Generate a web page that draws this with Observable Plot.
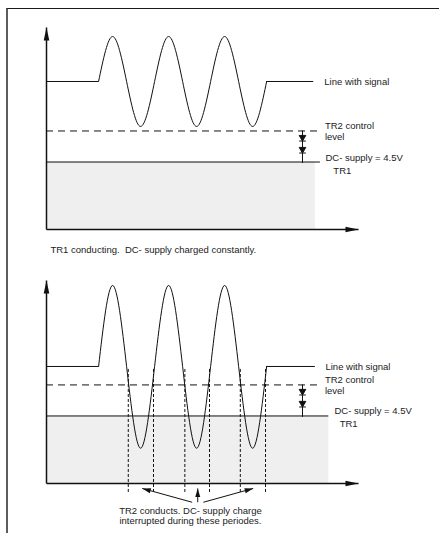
<!DOCTYPE html>
<html><head><meta charset="utf-8">
<script src="https://cdn.jsdelivr.net/npm/d3@7"></script>
<script src="https://cdn.jsdelivr.net/npm/@observablehq/plot@0.6"></script>
<style>
html,body{margin:0;padding:0;background:#fff;}
#wrap{position:relative;width:439px;height:533px;overflow:hidden;font-family:"Liberation Sans",Arial,sans-serif;}
#frame{position:absolute;left:5.5px;top:7.5px;right:-4px;bottom:-4px;border-top:1.6px solid #1a1a1a;border-left:2px solid #5c5c5c;pointer-events:none;z-index:2;}
.panel{position:absolute;left:0;}
</style></head><body>
<div id="wrap"><div id="frame"></div></div>
<script>
// ---------- shared values (time in signal periods, level in volts) ----------
const axisEndT = 5.57;
const controlLevel = 6.57;
const dcSupply = 4.5;
const waveT = [0.93, 1.18, 1.43, 1.68, 1.93, 2.18, 2.43, 2.68, 2.93, 3.18, 3.43, 3.68, 3.93];

// ---------- panel 1: TR1 conducting ----------
const p1AxisTop = 13.47;
const p1Base = 9.87;
const p1WaveV = [9.87, 12.87, 9.87, 6.87, 9.87, 12.87, 9.87, 6.87, 9.87, 12.87, 9.87, 6.87, 9.87];
const p1FlatFrom = [0, 3.93];
const p1FlatTo = [0.93, 4.77];
const p1ControlEnd = 4.89;
const p1DcEnd = 4.89;
const p1FillEnd = 4.80;
const p1DiodeT = 4.57;
const p1Labels = ["Line with signal", "TR2 control\nlevel", "DC- supply = 4.5V\n\u00a0\u00a0\u00a0TR1"];
const p1LabelT = [4.96, 4.97, 4.98];
const p1LabelV = [9.87, 6.57, 4.4];
const p1Caption = "TR1 conducting.\u00a0 DC- supply charged constantly.";
const p1CaptionT = 0.07;
const p1CaptionV = -1.33;

// ---------- panel 2: TR2 conducts ----------
const p2AxisTop = 13.53;
const p2Base = 7.8;
const p2WaveV = [7.8, 13.2, 7.8, 2.35, 7.8, 13.2, 7.8, 2.35, 7.8, 13.2, 7.8, 2.35, 7.8];
const p2FlatFrom = [0, 3.93];
const p2FlatTo = [0.93, 4.80];
const p2ControlEnd = 4.89;
const p2DcEnd = 5.04;
const p2FillEnd = 5.04;
const p2DiodeT = 4.57;
const p2CrossT = [1.46, 1.91, 2.47, 2.91, 3.46, 3.91];
const p2CrossTop = 7.6;
const p2CrossBottom = -0.67;
const p2ArrowFromT = [2.60, 2.70, 2.80];
const p2ArrowFromV = [-1.25, -1.25, -1.25];
const p2ArrowToT = [1.71, 2.70, 3.69];
const p2ArrowToV = [-0.33, -0.33, -0.33];
const p2Labels = ["Line with signal", "TR2 control\nlevel", "DC- supply = 4.5V\n\u00a0\u00a0TR1"];
const p2LabelT = [4.98, 4.97, 5.14];
const p2LabelV = [7.8, 6.57, 4.47];
const p2Caption = "TR2 conducts. DC- supply charge\ninterrupted during these periodes.";
const p2CaptionT = 2.57;
const p2CaptionV = -2.13;

// diode symbol bars (tips of the two stacked diodes)
const diodeBarsV = [5.9, 5.1];
const labelLineHeights = [1, 1.16, 1.33];

// ---------- helpers ----------
const FONT = "'Liberation Sans', Arial, sans-serif";
function head(len, wid) {
  return (color) => {
    const m = d3.create("svg:marker")
      .attr("viewBox", `${-len} ${-wid / 2} ${len} ${wid}`)
      .attr("markerWidth", len).attr("markerHeight", wid)
      .attr("markerUnits", "userSpaceOnUse")
      .attr("refX", 0).attr("refY", 0)
      .attr("orient", "auto")
      .attr("overflow", "visible");
    m.append("path")
      .attr("d", `M${-len},${-wid / 2}L0,0L${-len},${wid / 2}Z`)
      .attr("fill", color).attr("stroke", "none");
    return m.node();
  };
}
const diodeSymbol = {
  draw(ctx) {
    const w = 3.3, h = 5.6;
    ctx.moveTo(-w, -h); ctx.lineTo(w, -h); ctx.lineTo(0, 0); ctx.closePath();
    ctx.moveTo(-w, 0); ctx.lineTo(w, 0);
  }
};

function panel(cfg) {
  const marks = [
    // supply area
    Plot.rect([0], {x1: 0, x2: cfg.fillEnd, y1: 0, y2: dcSupply, fill: "#efefef"}),
  ];
  if (cfg.crossT) {
    marks.push(Plot.ruleX(cfg.crossT, {x: d => d, y1: cfg.crossTop, y2: cfg.crossBottom,
      stroke: "#111", strokeWidth: 1, strokeDasharray: "3,2"}));
  }
  marks.push(
    // DC supply level
    Plot.ruleY([dcSupply], {x1: 0, x2: cfg.dcEnd, stroke: "#111", strokeWidth: 1}),
    // TR2 control level
    Plot.ruleY([controlLevel], {x1: 0, x2: cfg.controlEnd, stroke: "#111", strokeWidth: 1, strokeDasharray: "7,5"}),
    // flat parts of the line
    Plot.ruleY(cfg.flatFrom.map((d, i) => i), {y: () => cfg.base, x1: i => cfg.flatFrom[i], x2: i => cfg.flatTo[i], stroke: "#111", strokeWidth: 1}),
    // signal burst
    Plot.line(waveT.map((t, i) => ({t, v: cfg.waveV[i]})), {x: "t", y: "v", curve: "natural", stroke: "#111", strokeWidth: 1}),
    // diode stem and symbols
    Plot.ruleX([cfg.diodeT], {y1: controlLevel, y2: dcSupply - 0.1, stroke: "#111", strokeWidth: 1}),
    Plot.dot(diodeBarsV, {x: () => cfg.diodeT, y: d => d, symbol: diodeSymbol, fill: "#111", stroke: "#111", strokeWidth: 1}),
    // axes with arrow heads
    Plot.link([0, 1], {
      x1: [0, 0], y1: [0, 0], x2: [0, axisEndT], y2: [cfg.axisTop, 0],
      stroke: "#111", strokeWidth: 1.5, markerEnd: head(13, 5.6)
    })
  );
  cfg.labels.forEach((txt, i) => {
    marks.push(Plot.text([txt], {x: cfg.labelT[i], y: cfg.labelV[i], text: d => d,
      textAnchor: "start", lineAnchor: "middle", lineHeight: labelLineHeights[i],
      fontSize: 9.5, fill: "#222", fontFamily: FONT}));
  });
  marks.push(Plot.text([cfg.caption], {x: cfg.captionT, y: cfg.captionV, text: d => d,
    textAnchor: cfg.captionAnchor, lineAnchor: "middle", lineHeight: 1.12,
    fontSize: 9.5, fill: "#222", fontFamily: FONT}));
  if (cfg.arrowFromT) {
    marks.push(Plot.link([0, 1, 2], {
      x1: cfg.arrowFromT, y1: cfg.arrowFromV, x2: cfg.arrowToT, y2: cfg.arrowToV,
      stroke: "#111", strokeWidth: 1, markerEnd: head(8.5, 5)
    }));
  }
  return Plot.plot({
    width: 439, height: cfg.height,
    marginLeft: 46, marginRight: 81, marginTop: cfg.marginTop, marginBottom: cfg.marginBottom,
    x: {domain: [0, axisEndT], axis: null},
    y: {domain: [0, cfg.axisTop], axis: null},
    style: {background: "transparent", overflow: "visible", fontFamily: FONT, fontSize: "9.5px"},
    marks
  });
}

const wrap = document.getElementById("wrap");
const svg1 = panel({
  height: 266, marginTop: 27, marginBottom: 37, axisTop: p1AxisTop, base: p1Base, waveV: p1WaveV,
  flatFrom: p1FlatFrom, flatTo: p1FlatTo, controlEnd: p1ControlEnd, dcEnd: p1DcEnd, fillEnd: p1FillEnd,
  diodeT: p1DiodeT, labels: p1Labels, labelT: p1LabelT, labelV: p1LabelV,
  caption: p1Caption, captionT: p1CaptionT, captionV: p1CaptionV, captionAnchor: "start"
});
svg1.classList.add("panel"); svg1.style.top = "0px";
const svg2 = panel({
  height: 267, marginTop: 14, marginBottom: 50, axisTop: p2AxisTop, base: p2Base, waveV: p2WaveV,
  flatFrom: p2FlatFrom, flatTo: p2FlatTo, controlEnd: p2ControlEnd, dcEnd: p2DcEnd, fillEnd: p2FillEnd,
  diodeT: p2DiodeT, labels: p2Labels, labelT: p2LabelT, labelV: p2LabelV,
  caption: p2Caption, captionT: p2CaptionT, captionV: p2CaptionV, captionAnchor: "middle",
  crossT: p2CrossT, crossTop: p2CrossTop, crossBottom: p2CrossBottom,
  arrowFromT: p2ArrowFromT, arrowFromV: p2ArrowFromV, arrowToT: p2ArrowToT, arrowToV: p2ArrowToV
});
svg2.classList.add("panel"); svg2.style.top = "266px";
wrap.appendChild(svg1);
wrap.appendChild(svg2);
</script>
</body></html>
